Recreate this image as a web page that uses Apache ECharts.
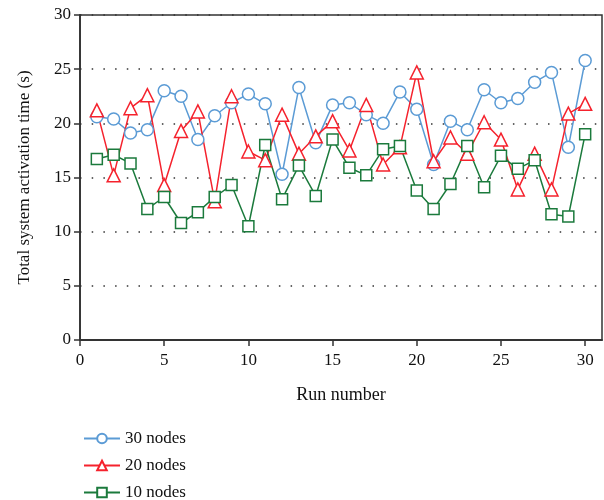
<!DOCTYPE html>
<html>
<head>
<meta charset="utf-8">
<script src="https://cdn.jsdelivr.net/npm/echarts@6/dist/echarts.min.js"></script>
<style>
  html, body { margin: 0; padding: 0; background: #fff; }
  #chart { width: 604px; height: 500px; }
</style>
</head>
<body>
<div id="chart"></div>
<script>
// run numbers 1..30
const runs = [1, 2, 3, 4, 5, 6, 7, 8, 9, 10, 11, 12, 13, 14, 15,
  16, 17, 18, 19, 20, 21, 22, 23, 24, 25, 26, 27, 28, 29, 30]

const nodes30 = [20.6, 20.4, 19.1, 19.4, 23.0, 22.5, 18.5, 20.7, 21.9, 22.7,
  21.8, 15.3, 23.3, 18.2, 21.7, 21.9, 20.8, 20.0, 22.9, 21.3,
  16.2, 20.2, 19.4, 23.1, 21.9, 22.3, 23.8, 24.7, 17.8, 25.8]

const nodes20 = [21.2, 15.2, 21.4, 22.6, 14.3, 19.3, 21.1, 12.8, 22.5, 17.4,
  16.6, 20.8, 17.2, 18.8, 20.2, 17.5, 21.7, 16.2, 17.8, 24.7,
  16.5, 18.7, 17.2, 20.1, 18.5, 13.9, 17.2, 13.9, 20.9, 21.8]

const nodes10 = [16.7, 17.1, 16.3, 12.1, 13.2, 10.8, 11.8, 13.2, 14.3, 10.5,
  18.0, 13.0, 16.1, 13.3, 18.5, 15.9, 15.2, 17.6, 17.9, 13.8,
  12.1, 14.4, 17.9, 14.1, 17.0, 15.8, 16.6, 11.6, 11.4, 19.0]

const xTicks = [0, 5, 10, 15, 20, 25, 30]

const font = 'Liberation Serif'

function pairs(vals) {
  return runs.map((r, i) => [r, vals[i]])
}

function makeSeries(name, vals, color, symbol, size) {
  return {
    name: name,
    type: 'line',
    data: pairs(vals),
    symbol: symbol,
    symbolSize: size,
    showSymbol: true,
    itemStyle: {
      color: '#fff',
      borderColor: color,
      borderWidth: 1.5
    },
    lineStyle: {
      color: color,
      width: 1.5
    },
    emphasis: { disabled: true },
    animation: false
  }
}

const chart = echarts.init(document.getElementById('chart'))

chart.setOption({
  backgroundColor: '#fff',
  grid: {
    left: 80,
    top: 15,
    right: 2,
    bottom: 160,
    show: true,
    borderColor: '#333',
    borderWidth: 1.5
  },
  legend: {
    orient: 'vertical',
    left: 78,
    top: 425,
    height: 100,
    itemGap: 10,
    itemWidth: 36,
    itemHeight: 12,
    textStyle: {
      fontFamily: font,
      fontSize: 17,
      color: '#111'
    },
    data: ['30 nodes', '20 nodes', '10 nodes']
  },
  xAxis: {
    type: 'value',
    min: 0,
    max: 31,
    interval: 5,
    name: 'Run number',
    nameLocation: 'middle',
    nameGap: 46,
    nameTextStyle: { fontFamily: font, fontSize: 18, color: '#111' },
    axisLine: { lineStyle: { color: '#333', width: 1.8 } },
    axisTick: { length: 6, lineStyle: { color: '#333', width: 1.5 }, customValues: xTicks },
    axisLabel: { fontFamily: font, fontSize: 17, color: '#111', margin: 12, customValues: xTicks },
    splitLine: { show: false }
  },
  yAxis: {
    type: 'value',
    min: 0,
    max: 30,
    interval: 5,
    name: 'Total system activation time (s)',
    nameLocation: 'middle',
    nameGap: 47,
    nameTextStyle: { fontFamily: font, fontSize: 17, color: '#111' },
    axisLine: { show: true, lineStyle: { color: '#333', width: 1.8 } },
    axisTick: { show: true, length: 6, lineStyle: { color: '#333', width: 1.5 } },
    axisLabel: { fontFamily: font, fontSize: 17, color: '#111', margin: 9 },
    splitLine: {
      show: true,
      lineStyle: { color: '#333', width: 1.5, type: [1.5, 10.2] }
    }
  },
  series: [
    makeSeries('30 nodes', nodes30, '#5b9bd5', 'circle', 12),
    makeSeries('20 nodes', nodes20, '#f5222d', 'triangle', 13),
    makeSeries('10 nodes', nodes10, '#1b7a3c', 'rect', 11)
  ]
})
</script>
</body>
</html>
